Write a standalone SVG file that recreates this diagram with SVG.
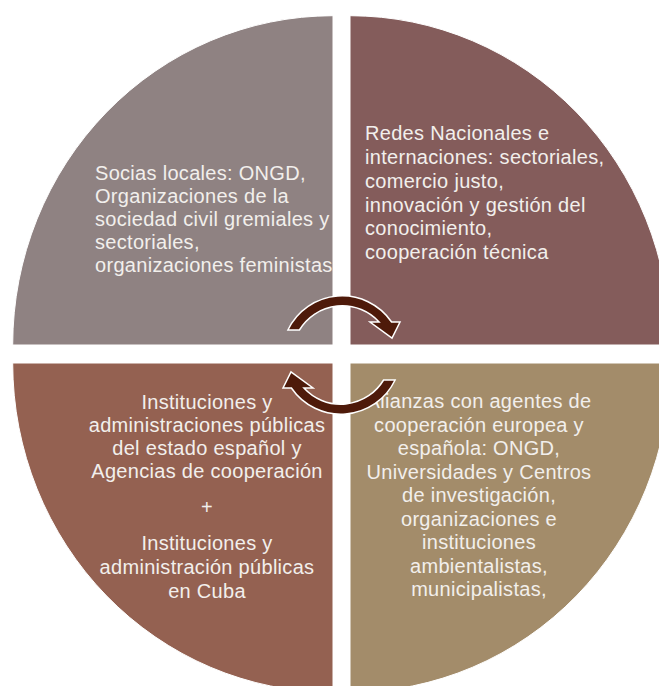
<svg xmlns="http://www.w3.org/2000/svg" width="659" height="686" viewBox="0 0 659 686">
<style>
.q{stroke:#ffffff;stroke-width:1}
.t{font-family:"Liberation Sans",Arial,sans-serif;font-size:20px;letter-spacing:0.3px;fill:#F2EFEC}
.c{text-anchor:middle}
.arr{fill:#4E1A0A;stroke:#ffffff;stroke-width:1.5;stroke-linejoin:miter}
</style>
<rect width="659" height="686" fill="#ffffff"/>
<g id="node-tl">
<path class="q" fill="#8F8282" d="M333 345 L12.7 345 A320.3 329.3 0 0 1 333 15.7 Z"/>
<text class="t"><tspan x="95" y="180">Socias locales: ONGD,</tspan><tspan x="95" y="203">Organizaciones de la</tspan><tspan x="95" y="226">sociedad civil gremiales y</tspan><tspan x="95" y="249">sectoriales,</tspan><tspan x="95" y="272">organizaciones feministas</tspan></text>
</g>
<g id="node-tr">
<path class="q" fill="#845C5B" d="M350 345 L350 15.7 A320.3 329.3 0 0 1 670.3 345 Z"/>
<text class="t"><tspan x="365" y="140">Redes Nacionales e</tspan><tspan x="365" y="164">internaciones: sectoriales,</tspan><tspan x="365" y="188">comercio justo,</tspan><tspan x="365" y="211.5">innovación y gestión del</tspan><tspan x="365" y="235">conocimiento,</tspan><tspan x="365" y="259">cooperación técnica</tspan></text>
</g>
<g id="node-bl">
<path class="q" fill="#946151" d="M333 363 L333 692.3 A320.3 329.3 0 0 1 12.7 363 Z"/>
<text class="t c"><tspan x="207" y="409">Instituciones y</tspan><tspan x="207" y="432">administraciones públicas</tspan><tspan x="207" y="455">del estado español y</tspan><tspan x="207" y="478">Agencias de cooperación</tspan><tspan x="207" y="514">+</tspan><tspan x="207" y="550">Instituciones y</tspan><tspan x="207" y="574">administración públicas</tspan><tspan x="207" y="598">en Cuba</tspan></text>
</g>
<g id="node-br">
<path class="q" fill="#A38C6A" d="M350 363 L670.3 363 A320.3 329.3 0 0 1 350 692.3 Z"/>
<text class="t c"><tspan x="479" y="408">Alianzas con agentes de</tspan><tspan x="479" y="431.5">cooperación europea y</tspan><tspan x="479" y="455">española: ONGD,</tspan><tspan x="479" y="478.5">Universidades y Centros</tspan><tspan x="479" y="502">de investigación,</tspan><tspan x="479" y="525.5">organizaciones e</tspan><tspan x="479" y="549">instituciones</tspan><tspan x="479" y="572.5">ambientalistas,</tspan><tspan x="479" y="596">municipalistas,</tspan></text>
</g>
<g id="connectors">
<path class="arr" d="M287.9 330 A60 60 0 0 1 391.6 322 L400 322 L392 338 L370 322 L379.1 322 A50 50 0 0 0 299.4 330 Z"/>
<path class="arr" d="M395.1 380 A60 60 0 0 1 291.4 388 L283 388 L291 372 L313 388 L303.9 388 A50 50 0 0 0 383.6 380 Z"/>
</g>
</svg>
